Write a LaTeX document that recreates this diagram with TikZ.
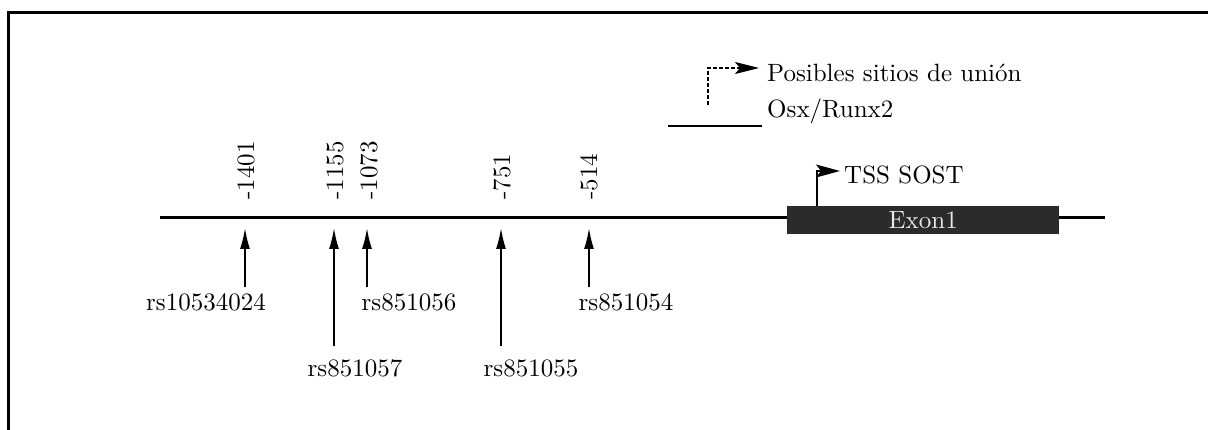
\documentclass[tikz,border=0pt]{standalone}
\usepackage{fontspec}
\setmainfont{lmroman10-regular}[Extension=.otf]
\usetikzlibrary{arrows.meta}
\definecolor{exonfill}{HTML}{2B2B2B}
\definecolor{exontext}{HTML}{E8E8E8}
\tikzset{
  lbl/.style={font=\fontsize{25}{29}\selectfont, inner sep=0pt},
  poslbl/.style={lbl, rotate=90, anchor=west},
  snp/.style={line width=1.7pt, -{Latex[length=21pt,width=10pt]}},
  flag/.style={line width=1.5pt, -{Stealth[length=24pt,width=13pt,inset=5pt]}},
}
\begin{document}
\begin{tikzpicture}[x=1pt,y=-1pt]
\useasboundingbox (0,0) rectangle (1208,430);
\draw[line width=3pt] (8,445) -- (8,13) -- (1220,13);
% main line
\coordinate (L) at (160,218);
\coordinate (R) at (1105,218);
\draw[line width=3pt] (L) -- (R);
% exon
\node[fill=exonfill, minimum width=272pt, minimum height=28pt, inner sep=0pt, anchor=west,
      text=exontext, font=\fontsize{25}{29}\selectfont] (ex) at (787,220) {Exon1};
% TSS
\coordinate (t0) at (817,206);
\coordinate (t1) at (817,171);
\coordinate (t2) at (840,171);
\draw[flag] (t0) -- (t1) -- (t2);
\node[lbl, anchor=west] (tss) at (844,175) {TSS SOST};
% positions
\node[poslbl] (p1) at (246,200) {-1401};
\node[poslbl] (p2) at (335,200) {-1155};
\node[poslbl] (p3) at (369,200) {-1073};
\node[poslbl] (p4) at (502,200) {-751};
\node[poslbl] (p5) at (589,200) {-514};
% snp labels
\node[lbl] (s1) at (206,302) {rs10534024};
\node[lbl] (s2) at (355,368) {rs851057};
\node[lbl] (s3) at (409,302) {rs851056};
\node[lbl] (s4) at (531,368) {rs851055};
\node[lbl] (s5) at (626,302) {rs851054};
% snp arrows
\coordinate (a1) at (245,287); \coordinate (b1) at (245,228);
\coordinate (a2) at (334,346); \coordinate (b2) at (334,228);
\coordinate (a3) at (367,287); \coordinate (b3) at (367,228);
\coordinate (a4) at (501,346); \coordinate (b4) at (501,228);
\coordinate (a5) at (589,287); \coordinate (b5) at (589,228);
\foreach \i in {1,...,5} \draw[snp] (a\i) -- (b\i);
% legend
\coordinate (d0) at (708,105);
\coordinate (d1) at (708,68);
\coordinate (d2) at (759,68);
\draw[line width=1.1pt, dash pattern=on 4pt off 2pt, -{Stealth[length=24pt,width=12pt,inset=5pt]}] (d0) -- (d1) -- (d2);
\node[lbl, anchor=west] (leg1) at (767,73) {Posibles sitios de unión};
\node[lbl, anchor=west] (leg2) at (767,111) {Osx/Runx2};
\coordinate (e0) at (668,126);
\coordinate (e1) at (762,126);
\draw[line width=1.8pt] (e0) -- (e1);
\end{tikzpicture}
\end{document}
